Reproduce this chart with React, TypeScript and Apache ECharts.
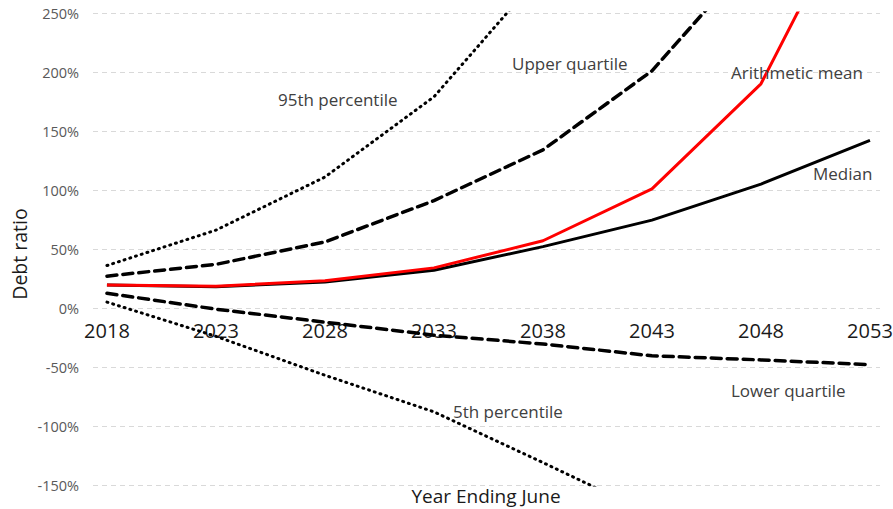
import React, { useEffect, useRef } from "react";
import * as echarts from "echarts";

const years = [2018, 2023, 2028, 2033, 2038, 2043, 2048, 2053];
const p95 = [36, 66, 111, 179, 285, 450, 650, 900];
const upperQuartile = [27, 37, 56, 91, 134, 201, 305, 450];
const mean = [19.5, 18.5, 23, 34, 57, 101, 190, 370];
const median = [19.5, 18, 22, 32, 52, 74.5, 105, 142];
const lowerQuartile = [12.5, -1, -12, -23, -30.5, -40.5, -44, -48];
const p5 = [5, -24, -57, -88, -131, -175, -220, -265];
const yTicks = [-150, -100, -50, 0, 50, 100, 150, 200, 250];

const FONT = "'Open Sans', 'Noto Sans', sans-serif";

const toPairs = (arr: number[]) => years.map((y, i) => [y, arr[i]]);

export default function App() {
  const ref = useRef<HTMLDivElement>(null);
  useEffect(() => {
    if (!ref.current) return;
    const chart = echarts.init(ref.current, null, { renderer: "svg" });
    const mk = (name: string, data: number[], color: string, type: any, width: number) => ({
      name,
      type: "line",
      data: toPairs(data),
      showSymbol: false,
      symbol: "none",
      clip: true,
      lineStyle: { color, type, width, cap: type === "solid" ? "butt" : "round" },
      z: name === "Arithmetic mean" ? 5 : 3,
    });
    const annot = (text: string, x: number, y: number, size = 17) => ({
      type: "text",
      x,
      y,
      style: { text, fill: "#404040", font: `${size}px ${FONT}`, textVerticalAlign: "middle" },
      z: 10,
    });
    const gridTop = 13;
    const gridBottomPx = 485;
    const yMin = yTicks[0];
    const yMax = yTicks[yTicks.length - 1];
    const zeroPx = gridTop + ((yMax - 0) / (yMax - yMin)) * (gridBottomPx - gridTop);
    chart.setOption({
      animation: false,
      backgroundColor: "#ffffff",
      grid: {
        left: 93,
        right: 13,
        top: gridTop,
        bottom: 509 - gridBottomPx,
        containLabel: false,
        outerBoundsMode: "none",
      },
      xAxis: {
        type: "value",
        min: 2017.36,
        max: 2053.46,
        offset: -(gridBottomPx - zeroPx),
        axisLine: { show: false, onZero: false },
        axisTick: { show: false },
        splitLine: { show: false },
        axisLabel: {
          customValues: years,
          formatter: (v: number) => String(v),
          color: "#1a1a1a",
          fontSize: 20,
          fontFamily: FONT,
          margin: 12,
        },
      },
      yAxis: {
        type: "value",
        min: yMin,
        max: yMax,
        interval: 50,
        axisLine: { show: false },
        axisTick: { show: false },
        axisLabel: {
          formatter: (v: number) => `${v}%`,
          color: "#595959",
          fontSize: 14.5,
          fontFamily: FONT,
          margin: 14,
        },
        splitLine: { show: true, lineStyle: { color: "#d9d9d9", type: [5, 4], width: 1 } },
      },
      series: [
        mk("95th percentile", p95, "#000000", [1, 5], 3),
        mk("Upper quartile", upperQuartile, "#000000", [10, 6], 3.5),
        mk("Median", median, "#000000", "solid", 3),
        mk("Arithmetic mean", mean, "#ff0000", "solid", 3),
        mk("Lower quartile", lowerQuartile, "#000000", [10, 6], 3.5),
        mk("5th percentile", p5, "#000000", [1, 5], 3),
      ],
      graphic: [
        annot("95th percentile", 278, 99),
        annot("Upper quartile", 512, 63),
        annot("Arithmetic mean", 731, 72),
        annot("Median", 813, 173),
        annot("Lower quartile", 731, 390),
        annot("5th percentile", 453, 411),
        {
          type: "text",
          x: 486,
          y: 496,
          style: {
            text: "Year Ending June",
            fill: "#1a1a1a",
            font: `19px ${FONT}`,
            textAlign: "center",
            textVerticalAlign: "middle",
          },
        },
        {
          type: "text",
          x: 19,
          y: 254,
          rotation: Math.PI / 2,
          style: {
            text: "Debt ratio",
            fill: "#1a1a1a",
            font: `19.5px ${FONT}`,
            textAlign: "center",
            textVerticalAlign: "middle",
          },
        },
      ],
    });
    return () => chart.dispose();
  }, []);
  return (
    <div
      ref={ref}
      style={{ position: "fixed", left: 0, top: 0, width: 893, height: 509, background: "#fff" }}
    />
  );
}
